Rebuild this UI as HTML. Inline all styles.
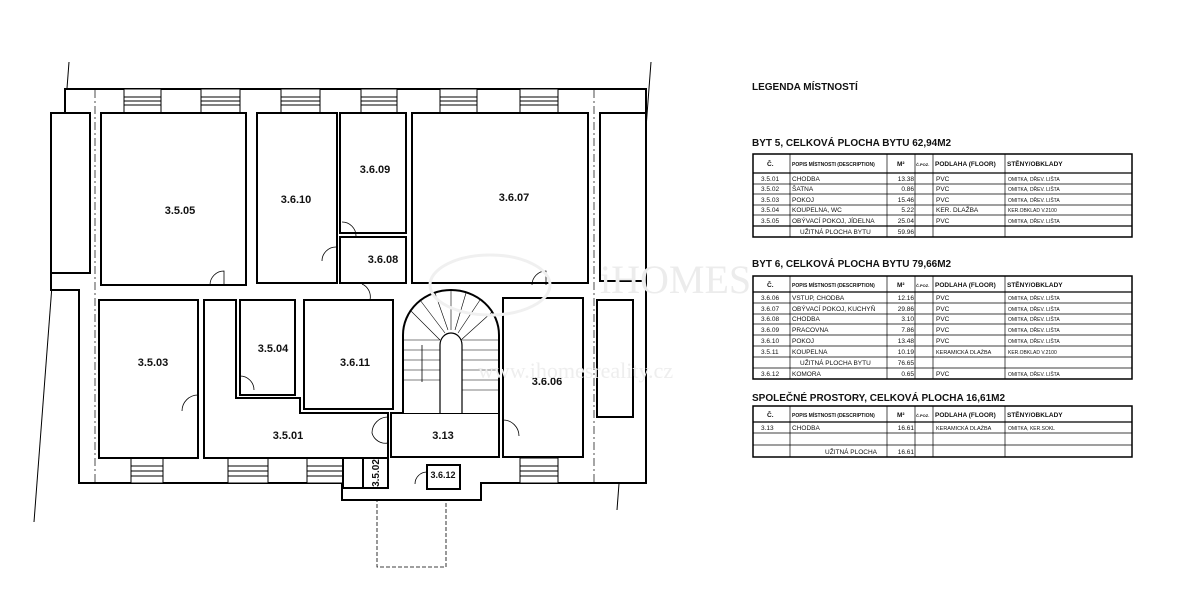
<!DOCTYPE html>
<html><head><meta charset="utf-8"><style>
body{margin:0;background:#fff;width:1200px;height:589px;overflow:hidden}
svg{display:block}
.r{fill:#fff;stroke:#000;stroke-width:2}
.w{fill:none;stroke:#000;stroke-width:1}
.l{font-family:"Liberation Sans",sans-serif;font-weight:bold;font-size:11px;fill:#111;text-anchor:middle}
.t{font-family:"Liberation Sans",sans-serif;font-size:6.5px;fill:#111}
.h{font-family:"Liberation Sans",sans-serif;font-weight:bold;font-size:10px;fill:#111}
.th{font-family:"Liberation Sans",sans-serif;font-weight:bold;font-size:6.5px;fill:#111}
</style></head><body>
<svg width="1200" height="589" viewBox="0 0 1200 589">
<line x1="69" y1="62" x2="34" y2="522" class="w"/>
<line x1="651" y1="62" x2="617" y2="510" class="w"/>
<path d="M65 89 H646 V483 H481 V500 H342 V483 H79 V290 H51 V273 H65 Z" fill="#fff" stroke="#000" stroke-width="2"/>
<g stroke="#000" stroke-width="1">
<rect x="124" y="89" width="37" height="24" fill="#fff"/><rect x="201" y="89" width="39" height="24" fill="#fff"/><rect x="281" y="89" width="39" height="24" fill="#fff"/><rect x="361" y="89" width="36" height="24" fill="#fff"/><rect x="440" y="89" width="37" height="24" fill="#fff"/><rect x="520" y="89" width="38" height="24" fill="#fff"/>
<path d="M124 97H161M124 101H161M124 105H161M201 97H240M201 101H240M201 105H240M281 97H320M281 101H320M281 105H320M361 97H397M361 101H397M361 105H397M440 97H477M440 101H477M440 105H477M520 97H558M520 101H558M520 105H558" fill="none"/>
<rect x="131" y="458" width="32" height="25" fill="#fff"/><rect x="228" y="458" width="40" height="25" fill="#fff"/><rect x="307" y="458" width="36" height="25" fill="#fff"/><rect x="520" y="458" width="38" height="25" fill="#fff"/>
<path d="M131 466H163M131 471H163M131 476H163M228 466H268M228 471H268M228 476H268M307 466H343M307 471H343M307 476H343M520 466H558M520 471H558M520 476H558" fill="none"/>
</g>
<line x1="95" y1="90" x2="95" y2="483" stroke="#000" stroke-width="0.7" stroke-dasharray="8 3 2 3"/>
<line x1="594" y1="90" x2="594" y2="483" stroke="#000" stroke-width="0.7" stroke-dasharray="8 3 2 3"/>
<rect class="r" x="101" y="113" width="145" height="172"/>
<rect class="r" x="257" y="113" width="80" height="170"/>
<rect class="r" x="340" y="113" width="66" height="120"/>
<rect class="r" x="340" y="237" width="66" height="46"/>
<rect class="r" x="412" y="113" width="176" height="170"/>
<rect class="r" x="600" y="113" width="46" height="168"/>
<rect class="r" x="51" y="113" width="39" height="160"/>
<rect class="r" x="99" y="300" width="99" height="158"/>
<rect class="r" x="240" y="300" width="55" height="95"/>
<rect class="r" x="304" y="300" width="89" height="109"/>
<path d="M204 300 H236 V398 H300 V413 H388 V458 H204 Z" class="r"/>
<rect class="r" x="391" y="413" width="108" height="44"/>
<rect class="r" x="503" y="298" width="80" height="159"/>
<rect class="r" x="597" y="300" width="36" height="117"/>
<rect class="r" x="343" y="458" width="20" height="30"/>
<rect class="r" x="363" y="458" width="25" height="30"/>
<rect class="r" x="427" y="465" width="33" height="24"/>
<path d="M403 413 V335 A48 45 0 0 1 499 335 V413" class="r"/>
<path d="M440 413 V345 A11 12 0 0 1 462 345 V413" fill="#fff" stroke="#000" stroke-width="1.2"/>
<g stroke="#000" stroke-width="0.6">
<path d="M403 340H440M403 350H440M403 360H440M403 370H440M403 380H440M462 340H499M462 350H499M462 360H499M462 370H499M462 380H499M462 390H499M410 310L440 340M420 300L445 333M435 293L448 330M451 290L451 330M466 293L455 330M480 300L458 333M492 312L461 340"/>
</g>
<line x1="422" y1="345" x2="422" y2="382" stroke="#000" stroke-width="0.8"/>
<rect x="377" y="500" width="69" height="67" fill="none" stroke="#000" stroke-width="0.8" stroke-dasharray="4 2"/>
<g fill="none" stroke="#000" stroke-width="0.8">
<path d="M210 285 A14 14 0 0 1 224 271 V285"/>
<path d="M342 222 A14 14 0 0 1 356 236"/>
<path d="M336 247 A14 14 0 0 0 322 261"/>
<path d="M532 285 A14 14 0 0 1 546 271 V285"/>
<path d="M198 395 A16 16 0 0 0 182 411"/>
<path d="M240 376 A14 14 0 0 1 254 390"/>
<path d="M362 284 A14 14 0 0 1 370 300"/>
<path d="M388 417 A16 16 0 0 0 372 433 A14 14 0 0 0 388 443"/>
<path d="M503 420 A16 16 0 0 1 519 436"/>
<path d="M427 472 A12 12 0 0 0 415 484"/>
</g>
<text class="l" x="180" y="214">3.5.05</text>
<text class="l" x="296" y="203">3.6.10</text>
<text class="l" x="375" y="173">3.6.09</text>
<text class="l" x="514" y="201">3.6.07</text>
<text class="l" x="383" y="263">3.6.08</text>
<text class="l" x="153" y="366">3.5.03</text>
<text class="l" x="273" y="352">3.5.04</text>
<text class="l" x="355" y="366">3.6.11</text>
<text class="l" x="547" y="385">3.6.06</text>
<text class="l" x="288" y="439">3.5.01</text>
<text class="l" x="443" y="439">3.13</text>
<text class="l" x="443" y="478" style="font-size:9px">3.6.12</text>
<text class="l" transform="translate(379,473) rotate(-90)" style="font-size:10px">3.5.02</text>
<text x="600" y="293" font-family="Liberation Serif,serif" font-size="40" fill="#ececec">iHOMES</text>
<text x="478" y="378" font-family="Liberation Serif,serif" font-size="22" fill="#eeeeee">www.ihomesreality.cz</text>
<ellipse cx="490" cy="285" rx="60" ry="30" fill="none" stroke="#f0f0f0" stroke-width="3"/>

<text class="h" x="752" y="90">LEGENDA MÍSTNOSTÍ</text>
<text class="h" x="752" y="146">BYT 5, CELKOVÁ PLOCHA BYTU 62,94M2</text>
<g stroke="#000" fill="none">
<rect x="753" y="154" width="379" height="83" stroke-width="1.5"/>
<line x1="753" y1="173" x2="1132" y2="173" stroke-width="1.2"/>
<line x1="753" y1="226" x2="1132" y2="226" stroke-width="1.2"/>
<path d="M753 184H1132M753 194H1132M753 205H1132M753 215H1132M790 154V237M887 154V237M915 154V237M933 154V237M1005 154V237" stroke-width="0.7"/>
</g>
<g>
<text class="th" x="767" y="166">Č.</text><text class="th" x="792" y="166" style="font-size:5px">POPIS MÍSTNOSTI (DESCRIPTION)</text><text class="th" x="897" y="166">M²</text><text class="th" x="916" y="166" style="font-size:4px">Č.POZ.</text><text class="th" x="935" y="166">PODLAHA (FLOOR)</text><text class="th" x="1007" y="166">STĚNY/OBKLADY</text>
</g>
<g class="t">
<text x="761" y="181">3.5.01</text><text x="792" y="181">CHODBA</text><text x="914" y="181" text-anchor="end">13.38</text><text x="936" y="181">PVC</text><text x="1008" y="181" style="font-size:5px">OMITKA, DŘEV. LIŠTA</text>
<text x="761" y="191">3.5.02</text><text x="792" y="191">ŠATNA</text><text x="914" y="191" text-anchor="end">0.86</text><text x="936" y="191">PVC</text><text x="1008" y="191" style="font-size:5px">OMITKA, DŘEV. LIŠTA</text>
<text x="761" y="202">3.5.03</text><text x="792" y="202">POKOJ</text><text x="914" y="202" text-anchor="end">15.46</text><text x="936" y="202">PVC</text><text x="1008" y="202" style="font-size:5px">OMITKA, DŘEV. LIŠTA</text>
<text x="761" y="212">3.5.04</text><text x="792" y="212">KOUPELNA, WC</text><text x="914" y="212" text-anchor="end">5.22</text><text x="936" y="212">KER. DLAŽBA</text><text x="1008" y="212" style="font-size:5px">KER.OBKLAD V.2100</text>
<text x="761" y="223">3.5.05</text><text x="792" y="223">OBÝVACÍ POKOJ, JÍDELNA</text><text x="914" y="223" text-anchor="end">25.04</text><text x="936" y="223">PVC</text><text x="1008" y="223" style="font-size:5px">OMITKA, DŘEV. LIŠTA</text>
<text x="800" y="234">UŽITNÁ PLOCHA BYTU</text><text x="914" y="234" text-anchor="end">59.96</text>
</g>

<text class="h" x="752" y="267">BYT 6, CELKOVÁ PLOCHA BYTU 79,66M2</text>
<g stroke="#000" fill="none">
<rect x="753" y="276" width="379" height="103" stroke-width="1.5"/>
<line x1="753" y1="292" x2="1132" y2="292" stroke-width="1.2"/>
<path d="M753 303H1132M753 314H1132M753 324H1132M753 335H1132M753 346H1132M753 357H1132M753 368H1132M790 276V379M887 276V379M915 276V379M933 276V379M1005 276V379" stroke-width="0.7"/>
</g>
<g>
<text class="th" x="767" y="287">Č.</text><text class="th" x="792" y="287" style="font-size:5px">POPIS MÍSTNOSTI (DESCRIPTION)</text><text class="th" x="897" y="287">M²</text><text class="th" x="916" y="287" style="font-size:4px">Č.POZ.</text><text class="th" x="935" y="287">PODLAHA (FLOOR)</text><text class="th" x="1007" y="287">STĚNY/OBKLADY</text>
</g>
<g class="t">
<text x="761" y="300">3.6.06</text><text x="792" y="300">VSTUP, CHODBA</text><text x="914" y="300" text-anchor="end">12.16</text><text x="936" y="300">PVC</text><text x="1008" y="300" style="font-size:5px">OMITKA, DŘEV. LIŠTA</text>
<text x="761" y="311">3.6.07</text><text x="792" y="311">OBÝVACÍ POKOJ, KUCHYŇ</text><text x="914" y="311" text-anchor="end">29.86</text><text x="936" y="311">PVC</text><text x="1008" y="311" style="font-size:5px">OMITKA, DŘEV. LIŠTA</text>
<text x="761" y="321">3.6.08</text><text x="792" y="321">CHODBA</text><text x="914" y="321" text-anchor="end">3.10</text><text x="936" y="321">PVC</text><text x="1008" y="321" style="font-size:5px">OMITKA, DŘEV. LIŠTA</text>
<text x="761" y="332">3.6.09</text><text x="792" y="332">PRACOVNA</text><text x="914" y="332" text-anchor="end">7.86</text><text x="936" y="332">PVC</text><text x="1008" y="332" style="font-size:5px">OMITKA, DŘEV. LIŠTA</text>
<text x="761" y="343">3.6.10</text><text x="792" y="343">POKOJ</text><text x="914" y="343" text-anchor="end">13.48</text><text x="936" y="343">PVC</text><text x="1008" y="343" style="font-size:5px">OMITKA, DŘEV. LIŠTA</text>
<text x="761" y="354">3.5.11</text><text x="792" y="354">KOUPELNA</text><text x="914" y="354" text-anchor="end">10.19</text><text x="936" y="354" style="font-size:5.5px">KERAMICKÁ DLAŽBA</text><text x="1008" y="354" style="font-size:5px">KER.OBKLAD V.2100</text>
<text x="800" y="365">UŽITNÁ PLOCHA BYTU</text><text x="914" y="365" text-anchor="end">76.65</text>
<text x="761" y="376">3.6.12</text><text x="792" y="376">KOMORA</text><text x="914" y="376" text-anchor="end">0.65</text><text x="936" y="376">PVC</text><text x="1008" y="376" style="font-size:5px">OMITKA, DŘEV. LIŠTA</text>
</g>

<text class="h" x="752" y="401">SPOLEČNÉ PROSTORY, CELKOVÁ PLOCHA 16,61M2</text>
<g stroke="#000" fill="none">
<rect x="753" y="406" width="379" height="51" stroke-width="1.5"/>
<line x1="753" y1="422" x2="1132" y2="422" stroke-width="1.2"/>
<path d="M753 433H1132M753 445H1132M790 406V457M887 406V457M915 406V457M933 406V457M1005 406V457" stroke-width="0.7"/>
</g>
<g>
<text class="th" x="767" y="417">Č.</text><text class="th" x="792" y="417" style="font-size:5px">POPIS MÍSTNOSTI (DESCRIPTION)</text><text class="th" x="897" y="417">M²</text><text class="th" x="916" y="417" style="font-size:4px">Č.POZ.</text><text class="th" x="935" y="417">PODLAHA (FLOOR)</text><text class="th" x="1007" y="417">STĚNY/OBKLADY</text>
</g>
<g class="t">
<text x="761" y="430">3.13</text><text x="792" y="430">CHODBA</text><text x="914" y="430" text-anchor="end">16.61</text><text x="936" y="430" style="font-size:5.5px">KERAMICKÁ DLAŽBA</text><text x="1008" y="430" style="font-size:5px">OMITKA, KER.SOKL</text>
<text x="825" y="454">UŽITNÁ PLOCHA</text><text x="914" y="454" text-anchor="end">16.61</text>
</g>
</svg>
</body></html>
